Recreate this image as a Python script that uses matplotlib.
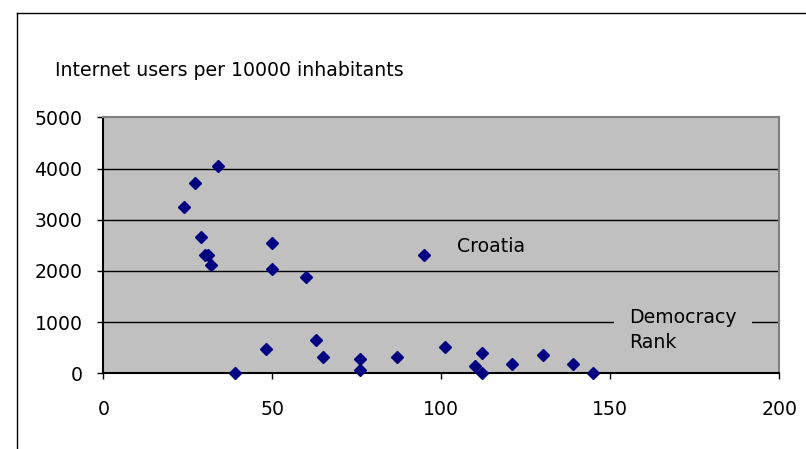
import matplotlib
matplotlib.use("Agg")
import matplotlib.pyplot as plt
from matplotlib.lines import Line2D

plt.rcParams['font.family'] = ['DejaVu Sans']

democracy_rank = [24, 27, 34, 29, 30, 31, 32, 39, 48, 50, 50, 60, 63, 65, 76, 76, 87, 95,
                  101, 112, 110, 112, 121, 130, 139, 145]
internet_users = [3250, 3720, 4040, 2670, 2310, 2310, 2120, 0, 470, 2550, 2040, 1890, 660, 310,
                  270, 60, 310, 2310, 510, 390, 150, 0, 180, 350, 180, 0]
x_ticks = [0, 50, 100, 150, 200]
y_ticks = [0, 1000, 2000, 3000, 4000, 5000]

W, H = 806, 449
fig = plt.figure(figsize=(W/100, H/100), dpi=100)
fig.patch.set_facecolor('white')

# outer chart border (top and left visible)
fig.add_artist(Line2D([17/W, 1.0], [1-13/H, 1-13/H], color='black', lw=1.0, transform=fig.transFigure))
fig.add_artist(Line2D([17/W, 17/W], [0, 1-13/H], color='black', lw=1.0, transform=fig.transFigure))

FS = 13.6
left, right, top, bottom = 103.3, 779.3, 117.3, 373.3
ax = fig.add_axes([left/W, 1-bottom/H, (right-left)/W, (bottom-top)/H])
ax.set_facecolor('#C0C0C0')
ax.set_xlim(0, 200)
ax.set_ylim(0, 5000)
ax.set_xticks(x_ticks)
ax.set_yticks(y_ticks)
ax.tick_params(direction='out', length=4.5, width=1, labelsize=FS, color='black')
ax.tick_params(axis='x', pad=15)
ax.tick_params(axis='y', pad=10.5)

for s in ['top', 'right']:
    ax.spines[s].set_color('#808080')
    ax.spines[s].set_linewidth(1.5)
for s in ['left', 'bottom']:
    ax.spines[s].set_color('black')
    ax.spines[s].set_linewidth(1.5)

for yv in y_ticks[1:-1]:
    ax.axhline(yv, color='black', lw=1.0, zorder=1)

ax.plot(democracy_rank, internet_users, linestyle='none', marker='D', markersize=6.2,
        color='#000080', zorder=3, clip_on=False)

fig.text(55/W, 1-71/H, 'Internet users per 10000 inhabitants', fontsize=FS, va='center', ha='left')
fig.text(457/W, 1-246/H, 'Croatia', fontsize=FS, va='center', ha='left')
fig.text(629/W, 1-330/H, 'Democracy\nRank', fontsize=FS, va='center', ha='left', zorder=4,
         linespacing=1.4,
         bbox=dict(facecolor='#C0C0C0', edgecolor='none', pad=11))

fig.savefig('out.png', dpi=100)
